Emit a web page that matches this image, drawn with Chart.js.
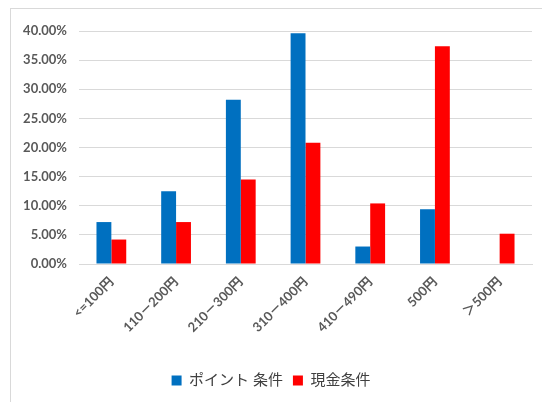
<!DOCTYPE html>
<html>
<head>
<meta charset="utf-8">
<script src="https://cdn.jsdelivr.net/npm/chart.js@4.4.0/dist/chart.umd.min.js"></script>
<style>
  body { margin: 0; background: #fff; }
  #wrap { position: relative; width: 542px; height: 402px; }
  #frame { position: absolute; left: 10px; top: 8px; width: 540px; height: 400px;
           border-top: 1px solid #d9d9d9; border-left: 1px solid #d9d9d9; }
  canvas { position: absolute; left: 0; top: 0; }
</style>
</head>
<body>
<div id="wrap">
  <div id="frame"></div>
  <canvas id="myChart" width="542" height="402"></canvas>
</div>
<script>
// categories
var categories = ["<=100円", "110－200円", "210－300円", "310－400円", "410－490円", "500円", "＞500円"];
// series
var pointValues = [7.2, 12.5, 28.2, 39.6, 3.0, 9.4, 0];
var cashValues = [4.2, 7.2, 14.5, 20.8, 10.4, 37.4, 5.2];
var yTicks = [0, 5, 10, 15, 20, 25, 30, 35, 40];

var fontFamily = "Lato, 'Noto Sans CJK JP', sans-serif";

var chartData = {
    labels: categories,
    datasets: [
        {
            label: "ポイント 条件",
            data: pointValues,
            backgroundColor: "#0070C0"
        },
        {
            label: "現金条件",
            data: cashValues,
            backgroundColor: "#FF0000"
        }
    ]
};

var mychart = new Chart(document.getElementById("myChart"), {
    type: 'bar',
    data: chartData,
    options: {
        responsive: false,
        animation: false,
        layout: { padding: { left: 10, right: 10, top: 31, bottom: 4 } },
        datasets: {
            bar: { barPercentage: 1.0, categoryPercentage: 0.46 }
        },
        plugins: {
            tooltip: { enabled: false },
            legend: {
                position: 'bottom',
                labels: {
                    boxWidth: 10,
                    boxHeight: 10,
                    padding: 10,
                    color: '#404040',
                    font: { family: fontFamily, size: 15 }
                }
            }
        },
        scales: {
            x: {
                grid: { display: false },
                border: { color: '#d9d9d9' },
                ticks: {
                    color: '#595959',
                    font: { family: fontFamily, size: 13, weight: 'bold' },
                    maxRotation: 45,
                    minRotation: 45,
                    padding: 2
                },
                afterFit: function(scale) { scale.height = 99; }
            },
            y: {
                min: 0,
                max: 40,
                afterBuildTicks: function(scale) {
                    scale.ticks = yTicks.map(function(v) { return { value: v }; });
                },
                grid: { color: '#d9d9d9', drawTicks: false },
                border: { display: false },
                ticks: {
                    color: '#595959',
                    font: { family: fontFamily, size: 13, weight: 'bold' },
                    padding: 12,
                    callback: function(v) { return v.toFixed(2) + "%"; }
                },
                afterFit: function(scale) { scale.width = 69; }
            }
        }
    }
});
</script>
</body>
</html>
